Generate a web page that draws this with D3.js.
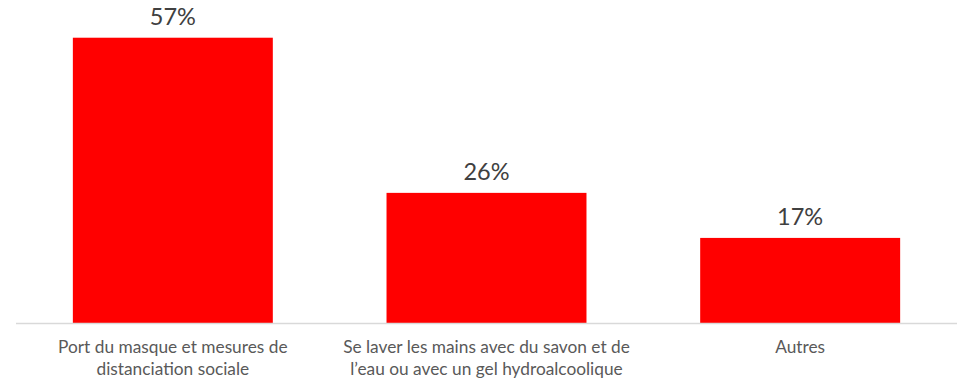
<!DOCTYPE html>
<html>
<head>
<meta charset="utf-8">
<script src="https://cdn.jsdelivr.net/npm/d3@7"></script>
<style>
  html, body { margin: 0; padding: 0; background: #fff; }
  svg { display: block; font-family: "Gill Sans", "Gill Sans MT", Lato, "Open Sans", sans-serif; }
</style>
</head>
<body>
<svg id="chart" width="957" height="379"></svg>
<script>
const categories = [
  ["Port du masque et mesures de", "distanciation sociale"],
  ["Se laver les mains avec du savon et de", "l\u2019eau ou avec un gel hydroalcoolique"],
  ["Autres"]
];
const values = [57, 26, 17];
const valueLabels = ["57%", "26%", "17%"];

const svg = d3.select("#chart");
const left = 16, right = 957, baseline = 323;

const x = d3.scaleBand()
  .domain(d3.range(values.length))
  .range([left, right])
  .paddingInner(0.3625)
  .paddingOuter(0.18125);

const y = d3.scaleLinear().domain([0, 60]).range([baseline, baseline - 300.3]);

svg.append("g").selectAll("rect")
  .data(values)
  .join("rect")
  .attr("x", (d, i) => x(i))
  .attr("y", d => y(d))
  .attr("width", x.bandwidth())
  .attr("height", d => y(0) - y(d))
  .attr("fill", "#FF0000");

// baseline axis
svg.append("line")
  .attr("x1", left).attr("x2", right)
  .attr("y1", baseline + 0.5).attr("y2", baseline + 0.5)
  .attr("stroke", "#D9D9D9").attr("stroke-width", 1.5);

// value labels above bars
svg.append("g").selectAll("text")
  .data(values)
  .join("text")
  .attr("x", (d, i) => x(i) + x.bandwidth() / 2)
  .attr("y", d => y(d) - 13)
  .attr("text-anchor", "middle")
  .attr("font-size", 23.5)
  .attr("fill", "#404040")
  .text((d, i) => valueLabels[i]);

// category labels
const cat = svg.append("g").selectAll("text")
  .data(categories)
  .join("text")
  .attr("x", (d, i) => x(i) + x.bandwidth() / 2)
  .attr("y", 353)
  .attr("text-anchor", "middle")
  .attr("font-size", 17.3)
  .attr("fill", "#595959");
cat.selectAll("tspan")
  .data(d => d)
  .join("tspan")
  .attr("x", function () { return this.parentNode.getAttribute("x"); })
  .attr("dy", (d, j) => j === 0 ? 0 : 22)
  .text(d => d);
</script>
</body>
</html>
